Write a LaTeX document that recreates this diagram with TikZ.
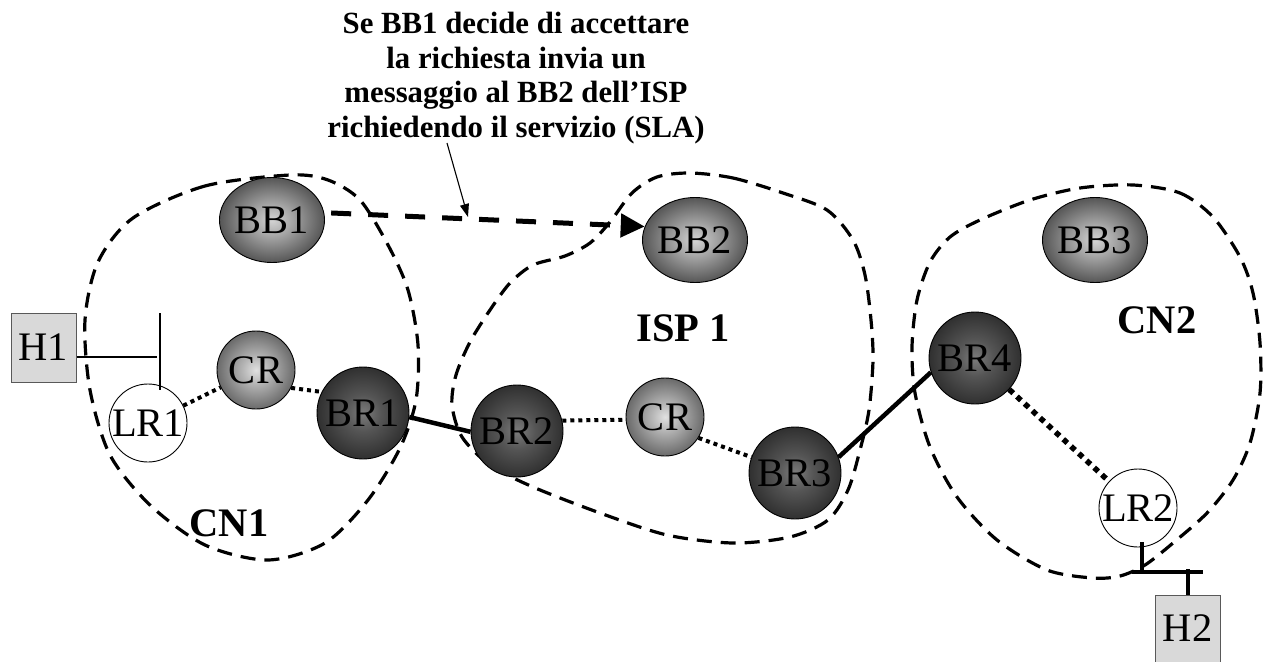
\documentclass[tikz,border=0pt]{standalone}
\usepackage{fontspec}
\setmainfont{Liberation Serif}
\usetikzlibrary{shapes.geometric,arrows.meta}
\definecolor{bbc0}{HTML}{D4D4D4}
\definecolor{bbc1}{HTML}{A8A8A8}
\definecolor{bbc2}{HTML}{565656}
\definecolor{crc0}{HTML}{E0E0E0}
\definecolor{crc1}{HTML}{B4B4B4}
\definecolor{crc2}{HTML}{6A6A6A}
\definecolor{brc0}{HTML}{7C7C7C}
\definecolor{brc1}{HTML}{555555}
\definecolor{brc2}{HTML}{303030}
\definecolor{hfill}{HTML}{D9D9D9}
\pgfdeclareradialshading{bbshade}{\pgfpoint{0bp}{0bp}}{color(0bp)=(bbc0); color(9bp)=(bbc1); color(25bp)=(bbc2); color(50bp)=(bbc2)}
\pgfdeclareradialshading{crshade}{\pgfpoint{0bp}{0bp}}{color(0bp)=(crc0); color(9bp)=(crc1); color(25bp)=(crc2); color(50bp)=(crc2)}
\pgfdeclareradialshading{brshade}{\pgfpoint{0bp}{0bp}}{color(0bp)=(brc0); color(10bp)=(brc1); color(25bp)=(brc2); color(50bp)=(brc2)}
\newcommand\ndfont{\fontsize{40.5}{44}\selectfont}
\newcommand\lblfont{\fontsize{40.5}{44}\selectfont\bfseries}
\newcommand\notefont{\fontsize{30.8}{34.7}\selectfont\bfseries}
\begin{document}
\begin{tikzpicture}[x=1pt,y=-1pt,
  bbnode/.style={ellipse,draw=black,line width=0.9pt,inner sep=0pt,minimum width=94pt,minimum height=85pt,shading=bbshade,font=\ndfont},
  crnode/.style={circle,draw=black,line width=0.9pt,inner sep=0pt,minimum size=78pt,shading=crshade,font=\ndfont},
  brnode/.style={circle,draw=black,line width=0.9pt,inner sep=0pt,minimum size=92pt,shading=brshade,font=\ndfont},
  lrnode/.style={circle,draw=black,line width=0.9pt,inner sep=0pt,minimum size=78pt,fill=white,font=\ndfont},
  hostnode/.style={rectangle,draw=black!65,line width=1pt,fill=hfill,inner sep=0pt,minimum width=65pt,font=\ndfont},
  blob/.style={line width=3.2pt,dash pattern=on 15pt off 9pt},
  dotlink/.style={line width=4pt,dash pattern=on 4pt off 4pt},
  dotlinkbig/.style={line width=5.5pt,dash pattern=on 5.5pt off 5pt},
  solidlink/.style={line width=4.5pt},
  thinlink/.style={line width=1.8pt},
  hostlink/.style={line width=3.2pt},
  lbl/.style={font=\lblfont,inner sep=0pt},
]
\useasboundingbox (0,0) rectangle (1265,661);

% domains
\draw[blob] plot[smooth cycle] coordinates {(290,175) (205,186) (133,218) (98,262) (85,320) (90,390) (110,455) (150,505) (205,545) (268,560) (325,543) (368,500) (400,448) (416,400) (418,345) (408,290) (388,245) (360,200) (328,180)};
\draw[blob] plot[smooth cycle] coordinates {(690,173) (733,178) (783,193) (827,210) (853,240) (865,275) (871,320) (873,360) (869,410) (860,450) (848,490) (828,520) (790,537) (733,543) (667,535) (600,513) (533,487) (490,465) (462,437) (452,405) (456,375) (470,342) (490,310) (510,283) (533,265) (565,256) (590,243) (610,222) (632,193) (657,177)};
\draw[blob] plot[smooth cycle] coordinates {(1133,185) (1180,193) (1213,217) (1240,257) (1253,293) (1260,343) (1260,393) (1250,443) (1233,480) (1207,513) (1173,543) (1145,565) (1120,576) (1093,578) (1047,570) (997,540) (957,497) (930,447) (915,393) (912,347) (917,300) (930,262) (950,237) (980,220) (1030,200) (1080,188)};

% nodes
\node[bbnode] (BB1) at (272,220) {BB1};
\node[bbnode] (BB2) at (695,240) {BB2};
\node[bbnode] (BB3) at (1095,240) {BB3};
\node[crnode] (CR1) at (256,370) {CR};
\node[brnode] (BR1) at (363,413) {BR1};
\node[lrnode] (LR1) at (148,423) {LR1};
\node[brnode] (BR2) at (517,431) {BR2};
\node[crnode] (CR2) at (665,417) {CR};
\node[brnode] (BR3) at (795,473) {BR3};
\node[brnode] (BR4) at (975,358) {BR4};
\node[lrnode] (LR2) at (1138,508) {LR2};
\node[hostnode,minimum height=69pt] (H1) at (43.5,347.5) {H1};
\node[hostnode,minimum height=67pt] (H2) at (1187.5,628.5) {H2};

% labels
\node[lbl] (ISP) at (683,328) {ISP 1};
\node[lbl] (CN1) at (229,523) {CN1};
\node[lbl] (CN2) at (1157,320) {CN2};
\node[font=\notefont,align=center,inner sep=0pt,anchor=north] (note) at (516,12)
  {Se BB1 decide di accettare\\la richiesta invia un\\messaggio al BB2 dell’ISP\\richiedendo il servizio (SLA)};

% links
\draw[dotlink] (LR1) -- (CR1);
\draw[dotlink] (CR1.-27) -- (BR1.153);
\draw[solidlink] (BR1.-5) -- (BR2.181);
\draw[dotlink] (BR2.13) -- (CR2.184);
\draw[dotlink] (CR2.-32) -- (BR3.160);
\draw[solidlink] (BR3.20) -- (BR4.198);
\draw[dotlinkbig] (BR4) -- (LR2);

% host attachments
\coordinate (h1j) at (157,357);
\coordinate (h1t) at (160,313);
\coordinate (h1b) at (160,390);
\draw[thinlink] (h1j -| H1.east) -- (h1j);
\draw[thinlink] (h1t) -- (h1b);
\coordinate (h2u) at (1142,542);
\coordinate (h2d) at (1142,572);
\coordinate (h2l) at (1132,572);
\coordinate (h2r) at (1203,572);
\coordinate (h2t) at (1188,569);
\draw[hostlink] (h2u) -- (h2d);
\draw[hostlink] (h2l) -- (h2r);
\draw[hostlink] (h2t) -- (h2t |- H2.north);

% message arrow
\draw[line width=5pt,dash pattern=on 20pt off 17pt,shorten <=7pt,-{Triangle[length=24pt,width=23pt]}] (BB1.8) -- (BB2.165);
\coordinate (a0) at (447,143);
\coordinate (a1) at (468,217);
\draw[line width=1.1pt,-{Triangle[length=13pt,width=9pt]}] (a0) -- (a1);
\end{tikzpicture}
\end{document}
